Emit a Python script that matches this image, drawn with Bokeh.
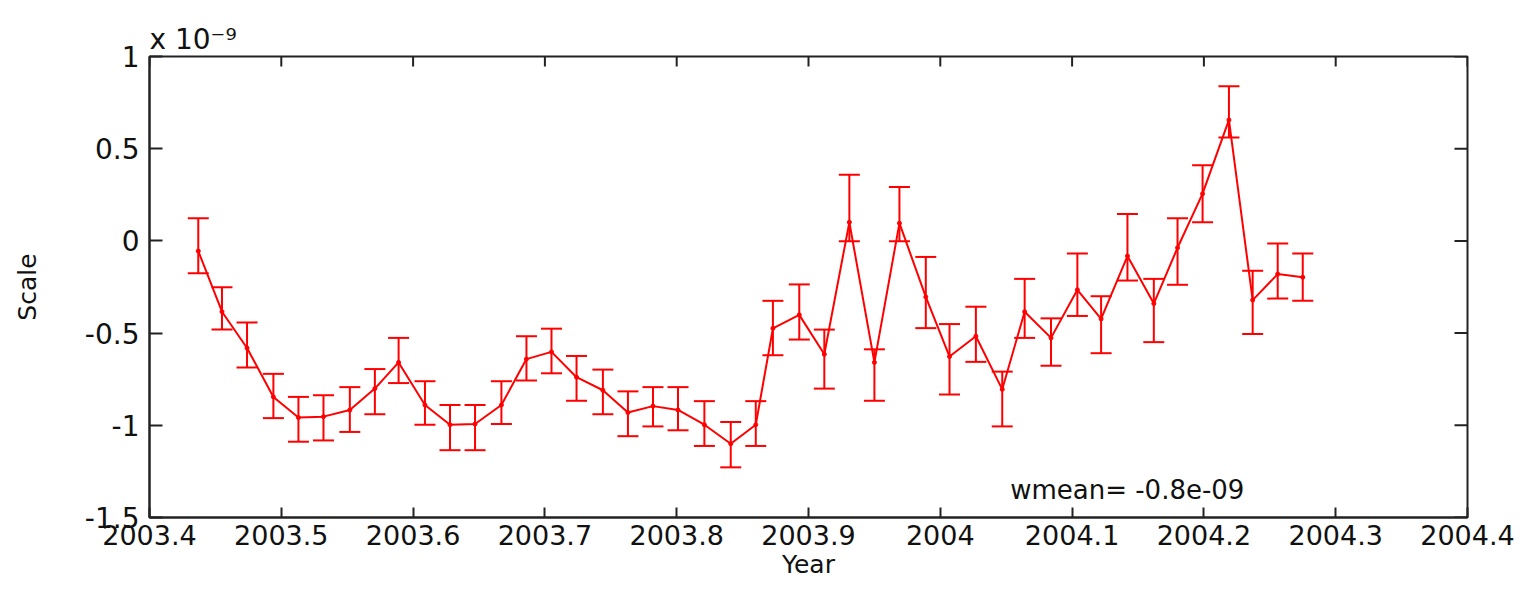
import math
from bokeh.plotting import figure
from bokeh.models import (Whisker, TeeHead, ColumnDataSource, FixedTicker, Title,
                          Label, Range1d, CustomJSTickFormatter)
from bokeh.embed import file_html
from bokeh.resources import INLINE

years = [2003.437, 2003.455, 2003.474, 2003.494, 2003.513, 2003.532, 2003.552, 2003.571,
         2003.589, 2003.609, 2003.628, 2003.647, 2003.667, 2003.686, 2003.705, 2003.724,
         2003.744, 2003.763, 2003.782, 2003.801, 2003.821, 2003.841, 2003.860, 2003.873,
         2003.893, 2003.912, 2003.931, 2003.950, 2003.969, 2003.989, 2004.007, 2004.027,
         2004.047, 2004.064, 2004.084, 2004.104, 2004.122, 2004.142, 2004.162, 2004.180,
         2004.199, 2004.219, 2004.237, 2004.256, 2004.275]
scale = [-0.055, -0.384, -0.581, -0.846, -0.958, -0.953, -0.917, -0.801, -0.659, -0.890,
         -0.997, -0.993, -0.890, -0.641, -0.602, -0.739, -0.810, -0.931, -0.896, -0.917,
         -0.997, -1.100, -0.997, -0.474, -0.401, -0.615, 0.101, -0.659, 0.096, -0.304,
         -0.627, -0.517, -0.805, -0.384, -0.526, -0.265, -0.423, -0.082, -0.340, -0.037,
         0.256, 0.656, -0.321, -0.180, -0.197]
upper = [0.123, -0.251, -0.442, -0.721, -0.846, -0.837, -0.793, -0.695, -0.526, -0.761,
         -0.890, -0.890, -0.761, -0.517, -0.476, -0.624, -0.698, -0.816, -0.793, -0.793,
         -0.869, -0.982, -0.869, -0.325, -0.236, -0.481, 0.359, -0.588, 0.292, -0.087,
         -0.451, -0.357, -0.709, -0.206, -0.420, -0.068, -0.300, 0.146, -0.206, 0.123,
         0.410, 0.838, -0.162, -0.014, -0.068]
lower = [-0.176, -0.481, -0.686, -0.961, -1.089, -1.082, -1.036, -0.940, -0.771, -0.997,
         -1.135, -1.135, -0.993, -0.757, -0.718, -0.867, -0.940, -1.059, -1.006, -1.027,
         -1.112, -1.228, -1.112, -0.620, -0.535, -0.801, -0.002, -0.867, -0.002, -0.473,
         -0.833, -0.656, -1.006, -0.526, -0.677, -0.407, -0.609, -0.215, -0.549, -0.238,
         0.101, 0.561, -0.505, -0.313, -0.325]

x_ticks = [2003.4, 2003.5, 2003.6, 2003.7, 2003.8, 2003.9, 2004.0, 2004.1, 2004.2, 2004.3, 2004.4]
x_tick_labels = ["2003.4", "2003.5", "2003.6", "2003.7", "2003.8", "2003.9", "2004",
                 "2004.1", "2004.2", "2004.3", "2004.4"]
y_ticks = [-1.5, -1.0, -0.5, 0.0, 0.5, 1.0]
y_tick_labels = ["-1.5", "-1", "-0.5", "0", "0.5", "1"]

x_label = "Year"
y_label = "Scale"
exponent_text = "x 10\u207b\u2079"
note_text = "wmean= -0.8e-09"
note_x = 2004.053
note_y = -1.352

FONT = "DejaVu Sans"
RED = "#ff0000"
AX = "#222222"
TXT = "#111111"

src = ColumnDataSource(dict(x=years, y=scale, upper=upper, lower=lower))

p = figure(width=1519, height=581, output_backend="svg", toolbar_location=None,
           x_range=Range1d(x_ticks[0], x_ticks[-1]), y_range=Range1d(y_ticks[0], y_ticks[-1]),
           min_border_left=149, min_border_right=52, min_border_top=56, min_border_bottom=60)
p.grid.visible = False
p.outline_line_color = AX
p.outline_line_width = 2
p.outline_line_alpha = 1.0


def fmt(ticks, labels):
    return CustomJSTickFormatter(args=dict(t=ticks, l=labels), code="""
        for (let i = 0; i < t.length; i++) { if (Math.abs(t[i] - tick) < 1e-9) return l[i]; }
        return '';""")


def style(ax, ticks, labels, tick_len, size, standoff):
    ax.ticker = FixedTicker(ticks=ticks, minor_ticks=[])
    ax.formatter = fmt(ticks, labels)
    ax.major_tick_in = tick_len
    ax.major_tick_out = 0
    ax.minor_tick_in = 0
    ax.minor_tick_out = 0
    ax.major_tick_line_color = AX
    ax.major_tick_line_width = 2
    ax.axis_line_color = AX
    ax.axis_line_width = 2
    ax.major_label_text_font = FONT
    ax.major_label_text_font_size = size
    ax.major_label_text_color = TXT
    ax.major_label_standoff = standoff
    ax.axis_label_text_font = FONT
    ax.axis_label_text_font_style = "normal"
    ax.axis_label_text_color = TXT


xa = p.xaxis[0]
ya = p.yaxis[0]
style(xa, x_ticks, x_tick_labels, 10, "27px", 7)
style(ya, y_ticks, y_tick_labels, 13, "28px", 10)
xa.axis_label = x_label
xa.axis_label_text_font_size = "25px"
xa.axis_label_standoff = 2
ya.axis_label = y_label
ya.axis_label_text_font_size = "25px"
ya.axis_label_standoff = 40

# inward ticks on the top and right edges of the box
p.scatter(x=x_ticks, y=[y_ticks[-1]] * len(x_ticks), marker="dash", angle=math.pi / 2,
          size=20, line_color=AX, line_width=2)
p.scatter(x=[x_ticks[-1]] * len(y_ticks), y=y_ticks, marker="dash", angle=0,
          size=26, line_color=AX, line_width=2)

w = Whisker(source=src, base="x", upper="upper", lower="lower",
            line_color=RED, line_width=2,
            upper_head=TeeHead(size=21, line_color=RED, line_width=2),
            lower_head=TeeHead(size=21, line_color=RED, line_width=2))
p.add_layout(w)
p.line("x", "y", source=src, line_color=RED, line_width=2)
p.scatter("x", "y", source=src, size=4, color=RED)

p.title.visible = False
p.add_layout(Title(text=exponent_text, align="left", offset=0, standoff=2,
                   text_font=FONT, text_font_size="28px", text_font_style="normal",
                   text_color=TXT), "above")

p.add_layout(Label(x=note_x, y=note_y, text=note_text,
                   text_font=FONT, text_font_size="26px", text_color=TXT,
                   text_baseline="alphabetic"))

open("out.html", "w").write(file_html(p, INLINE))
